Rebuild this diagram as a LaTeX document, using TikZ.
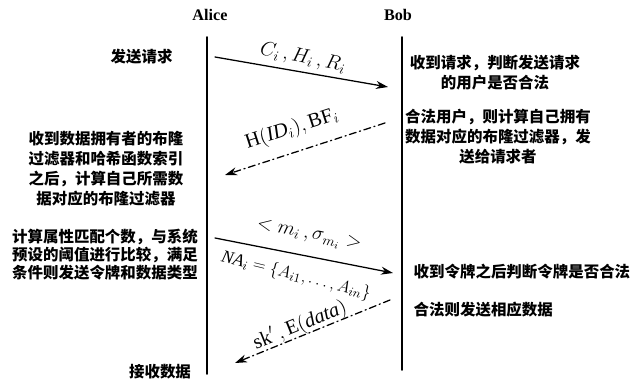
\documentclass[tikz,border=0pt]{standalone}
\usepackage{fontspec}
\setmainfont{Liberation Serif}
\newfontfamily\cjk{Noto Sans CJK SC}
\usetikzlibrary{arrows.meta}

\begin{document}
\begin{tikzpicture}[line cap=round,line join=round,>={Stealth[length=3mm,width=2mm]},
  every node/.style={inner sep=1pt},
  zh/.style={font=\cjk\bfseries\fontsize{11}{14.3}\selectfont,align=center},
  msg/.style={line width=0.9pt,->},
  ret/.style={line width=0.9pt,->,dash pattern=on 5pt off 2.5pt on 0.8pt off 2.5pt},
  lab/.style={inner sep=0pt,font=\fontsize{14.5}{16}\selectfont}]
  \useasboundingbox (0,0) rectangle (15.925,9.55);
  % 参与方与生命线
  \node[font=\bfseries\fontsize{11.5}{13}\selectfont] (alice) at (5.25,9.175) {Alice};
  \node[font=\bfseries\fontsize{11.5}{13}\selectfont] (bob) at (9.95,9.175) {Bob};
  \coordinate (aTop) at (5.175,8.625);
  \coordinate (aBot) at (5.175,0.20);
  \coordinate (bTop) at (10.05,8.625);
  \coordinate (bBot) at (10.05,0.30);
  \draw[line width=1.2pt] (aTop) -- (aBot);
  \draw[line width=1.2pt] (bTop) -- (bBot);
  % 消息端点
  \coordinate (m1s) at (5.375,8.125);
  \coordinate (m1e) at (9.70,7.375);
  \coordinate (m2s) at (9.625,6.475);
  \coordinate (m2e) at (5.625,5.175);
  \coordinate (m3s) at (5.375,3.60);
  \coordinate (m3e) at (9.825,2.725);
  \coordinate (m4s) at (9.75,2.05);
  \coordinate (m4e) at (5.875,0.475);
  \draw[msg] (m1s) -- (m1e);
  \draw[ret] (m2s) -- (m2e);
  \draw[msg] (m3s) -- (m3e);
  \draw[ret] (m4s) -- (m4e);
  % 消息标签
  \node[lab,rotate=-11] (l1) at (7.575,8.10) {$C_i\,,H_i\,,R_i$};
  \node[lab,rotate=18] (l2) at (7.30,6.32) {$\mathrm{H}\bigl(\mathit{ID}_i\bigr),\mathrm{BF}_i$};
  \node[lab,rotate=-11] (l3) at (7.725,3.66) {$<m_i\,,\sigma_{m_i}>$};
  \node[lab,rotate=-14,font=\fontsize{12.5}{14}\selectfont] (l4) at (7.40,2.66) {$\mathit{NA}_i=\{A_{i1},\dots,A_{in}\}$};
  \node[lab,rotate=22] (l5) at (7.50,1.42) {$\mathrm{sk}'\,,\mathrm{E}(\mathit{data})$};
  % Alice 一侧
  \node[zh] (t1) at (3.54,8.125) {发送请求};
  \node[zh] (t2) at (2.65,5.325) {收到数据拥有者的布隆\\过滤器和哈希函数索引\\之后，计算自己所需数\\据对应的布隆过滤器};
  \node[zh,font=\cjk\bfseries\fontsize{11}{12.8}\selectfont] (t3) at (2.625,3.175) {计算属性匹配个数，与系统\\预设的阈值进行比较，满足\\条件则发送令牌和数据类型};
  \node[zh] (t4) at (4.0,0.25) {接收数据};
  % Bob 一侧
  \node[zh] (r1) at (12.375,7.725) {收到请求，判断发送请求\\的用户是否合法};
  \node[zh] (r2) at (12.45,6.125) {合法用户，则计算自己拥有\\数据对应的布隆过滤器，发\\送给请求者};
  \node[zh,anchor=west] (r3) at (10.30,2.75) {收到令牌之后判断令牌是否合法};
  \node[zh,anchor=west] (r4) at (10.30,1.80) {合法则发送相应数据};
\end{tikzpicture}
\end{document}
